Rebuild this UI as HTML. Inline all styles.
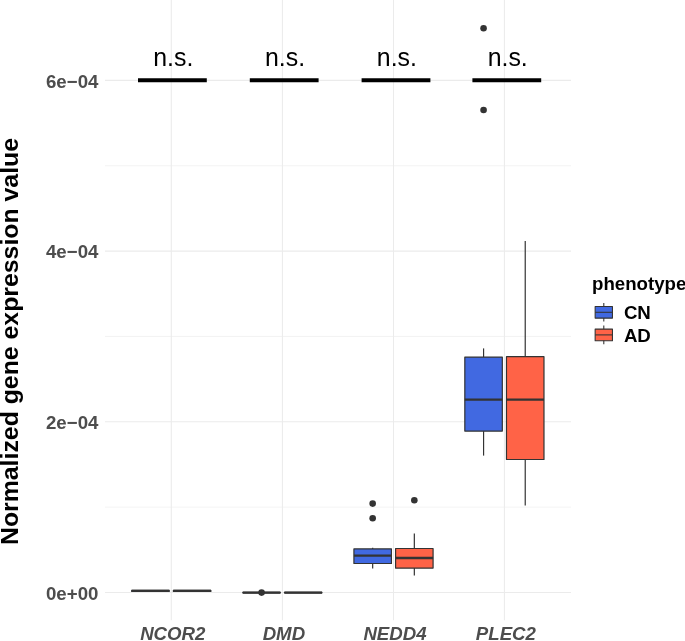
<!DOCTYPE html>
<html><head><meta charset="utf-8"><title>plot</title>
<style>
html,body{margin:0;padding:0;background:#fff;}
body{width:685px;height:641px;overflow:hidden;font-family:"Liberation Sans",sans-serif;}
svg{display:block;will-change:transform;}
.f{font-family:"Liberation Sans",sans-serif;}
</style></head><body>
<svg width="685" height="641" viewBox="0 0 685 641">
<rect width="685" height="641" fill="#fff"/>
<line x1="105.0" x2="571.0" y1="507.15" y2="507.15" stroke="#EBEBEB" stroke-width="0.6"/>
<line x1="105.0" x2="571.0" y1="336.45" y2="336.45" stroke="#EBEBEB" stroke-width="0.6"/>
<line x1="105.0" x2="571.0" y1="165.75" y2="165.75" stroke="#EBEBEB" stroke-width="0.6"/>
<line x1="105.0" x2="571.0" y1="592.50" y2="592.50" stroke="#EBEBEB" stroke-width="1.07"/>
<line x1="105.0" x2="571.0" y1="421.80" y2="421.80" stroke="#EBEBEB" stroke-width="1.07"/>
<line x1="105.0" x2="571.0" y1="251.10" y2="251.10" stroke="#EBEBEB" stroke-width="1.07"/>
<line x1="105.0" x2="571.0" y1="80.40" y2="80.40" stroke="#EBEBEB" stroke-width="1.07"/>
<line x1="171.3" x2="171.3" y1="0" y2="620.3" stroke="#EBEBEB" stroke-width="1.07"/>
<line x1="282.4" x2="282.4" y1="0" y2="620.3" stroke="#EBEBEB" stroke-width="1.07"/>
<line x1="393.5" x2="393.5" y1="0" y2="620.3" stroke="#EBEBEB" stroke-width="1.07"/>
<line x1="504.4" x2="504.4" y1="0" y2="620.3" stroke="#EBEBEB" stroke-width="1.07"/>
<line x1="150.47000000000003" x2="150.47000000000003" y1="590.3" y2="590.3" stroke="#333333" stroke-width="1.2"/>
<line x1="150.47000000000003" x2="150.47000000000003" y1="591.5" y2="591.5" stroke="#333333" stroke-width="1.2"/>
<rect x="131.72" y="590.3" width="37.5" height="1.20" fill="#4169E1" stroke="#333333" stroke-width="1.2" stroke-linejoin="round"/>
<line x1="131.72" x2="169.22" y1="590.9" y2="590.9" stroke="#333333" stroke-width="2.3"/>
<line x1="192.13" x2="192.13" y1="590.3" y2="590.3" stroke="#333333" stroke-width="1.2"/>
<line x1="192.13" x2="192.13" y1="591.5" y2="591.5" stroke="#333333" stroke-width="1.2"/>
<rect x="173.38" y="590.3" width="37.5" height="1.20" fill="#FF6347" stroke="#333333" stroke-width="1.2" stroke-linejoin="round"/>
<line x1="173.38" x2="210.88" y1="590.9" y2="590.9" stroke="#333333" stroke-width="2.3"/>
<line x1="261.57" x2="261.57" y1="592.4" y2="592.4" stroke="#333333" stroke-width="1.2"/>
<line x1="261.57" x2="261.57" y1="592.8" y2="592.8" stroke="#333333" stroke-width="1.2"/>
<rect x="242.82" y="592.4" width="37.5" height="0.40" fill="#4169E1" stroke="#333333" stroke-width="1.2" stroke-linejoin="round"/>
<line x1="242.82" x2="280.32" y1="592.6" y2="592.6" stroke="#333333" stroke-width="2.3"/>
<circle cx="261.57" cy="592.6" r="3.3" fill="#333333"/>
<line x1="303.22999999999996" x2="303.22999999999996" y1="592.4" y2="592.4" stroke="#333333" stroke-width="1.2"/>
<line x1="303.22999999999996" x2="303.22999999999996" y1="592.8" y2="592.8" stroke="#333333" stroke-width="1.2"/>
<rect x="284.48" y="592.4" width="37.5" height="0.40" fill="#FF6347" stroke="#333333" stroke-width="1.2" stroke-linejoin="round"/>
<line x1="284.48" x2="321.98" y1="592.6" y2="592.6" stroke="#333333" stroke-width="2.3"/>
<line x1="372.67" x2="372.67" y1="547.8" y2="548.9" stroke="#333333" stroke-width="1.2"/>
<line x1="372.67" x2="372.67" y1="563.5" y2="568.6" stroke="#333333" stroke-width="1.2"/>
<rect x="353.92" y="548.9" width="37.5" height="14.60" fill="#4169E1" stroke="#333333" stroke-width="1.2" stroke-linejoin="round"/>
<line x1="353.92" x2="391.42" y1="555.6" y2="555.6" stroke="#333333" stroke-width="2.3"/>
<circle cx="372.67" cy="503.6" r="3.3" fill="#333333"/>
<circle cx="372.67" cy="518.2" r="3.3" fill="#333333"/>
<line x1="414.33" x2="414.33" y1="533.6" y2="548.5" stroke="#333333" stroke-width="1.2"/>
<line x1="414.33" x2="414.33" y1="568.1" y2="575.4" stroke="#333333" stroke-width="1.2"/>
<rect x="395.58" y="548.5" width="37.5" height="19.60" fill="#FF6347" stroke="#333333" stroke-width="1.2" stroke-linejoin="round"/>
<line x1="395.58" x2="433.08" y1="558.0" y2="558.0" stroke="#333333" stroke-width="2.3"/>
<circle cx="414.33" cy="500.2" r="3.3" fill="#333333"/>
<line x1="483.57" x2="483.57" y1="348.4" y2="357.1" stroke="#333333" stroke-width="1.2"/>
<line x1="483.57" x2="483.57" y1="431.1" y2="455.6" stroke="#333333" stroke-width="1.2"/>
<rect x="464.82" y="357.1" width="37.5" height="74.00" fill="#4169E1" stroke="#333333" stroke-width="1.2" stroke-linejoin="round"/>
<line x1="464.82" x2="502.32" y1="399.6" y2="399.6" stroke="#333333" stroke-width="2.3"/>
<circle cx="483.57" cy="28.2" r="3.3" fill="#333333"/>
<circle cx="483.57" cy="110.0" r="3.3" fill="#333333"/>
<line x1="525.23" x2="525.23" y1="241.0" y2="356.7" stroke="#333333" stroke-width="1.2"/>
<line x1="525.23" x2="525.23" y1="459.5" y2="505.4" stroke="#333333" stroke-width="1.2"/>
<rect x="506.48" y="356.7" width="37.5" height="102.80" fill="#FF6347" stroke="#333333" stroke-width="1.2" stroke-linejoin="round"/>
<line x1="506.48" x2="543.98" y1="399.6" y2="399.6" stroke="#333333" stroke-width="2.3"/>
<line x1="138.0" x2="206.8" y1="80.3" y2="80.3" stroke="#000" stroke-width="3.9"/>
<text x="173.3" y="66.2" font-size="24.9" text-anchor="middle" fill="#000" class="f">n.s.</text>
<line x1="249.8" x2="318.6" y1="80.3" y2="80.3" stroke="#000" stroke-width="3.9"/>
<text x="285.1" y="66.2" font-size="24.9" text-anchor="middle" fill="#000" class="f">n.s.</text>
<line x1="361.6" x2="430.4" y1="80.3" y2="80.3" stroke="#000" stroke-width="3.9"/>
<text x="396.9" y="66.2" font-size="24.9" text-anchor="middle" fill="#000" class="f">n.s.</text>
<line x1="472.4" x2="541.2" y1="80.3" y2="80.3" stroke="#000" stroke-width="3.9"/>
<text x="507.7" y="66.2" font-size="24.9" text-anchor="middle" fill="#000" class="f">n.s.</text>
<text x="98.4" y="599.80" font-size="18.67" font-weight="bold" text-anchor="end" fill="#4D4D4D" class="f">0e+00</text>
<text x="98.4" y="429.10" font-size="18.67" font-weight="bold" text-anchor="end" fill="#4D4D4D" class="f">2e−04</text>
<text x="98.4" y="258.40" font-size="18.67" font-weight="bold" text-anchor="end" fill="#4D4D4D" class="f">4e−04</text>
<text x="98.4" y="87.70" font-size="18.67" font-weight="bold" text-anchor="end" fill="#4D4D4D" class="f">6e−04</text>
<text x="172.8" y="640.2" font-size="18.67" font-weight="bold" font-style="italic" text-anchor="middle" fill="#4D4D4D" class="f">NCOR2</text>
<text x="283.9" y="640.2" font-size="18.67" font-weight="bold" font-style="italic" text-anchor="middle" fill="#4D4D4D" class="f">DMD</text>
<text x="395.0" y="640.2" font-size="18.67" font-weight="bold" font-style="italic" text-anchor="middle" fill="#4D4D4D" class="f">NEDD4</text>
<text x="505.9" y="640.2" font-size="18.67" font-weight="bold" font-style="italic" text-anchor="middle" fill="#4D4D4D" class="f">PLEC2</text>
<text transform="translate(17.9,341.5) rotate(-90)" font-size="24.84" font-weight="bold" text-anchor="middle" fill="#000" class="f">Normalized gene expression value</text>
<text x="592.0" y="289.8" font-size="18.67" font-weight="bold" fill="#000" class="f">phenotype</text>
<line x1="603.8" x2="603.8" y1="303.0" y2="321.6" stroke="#333333" stroke-width="1.07"/>
<rect x="595.15" y="306.50" width="17.3" height="11.6" fill="#4169E1" stroke="#333333" stroke-width="1.07" stroke-linejoin="round"/>
<line x1="595.15" x2="612.45" y1="312.3" y2="312.3" stroke="#333333" stroke-width="1.07"/>
<text x="623.9" y="318.8" font-size="18.67" font-weight="bold" fill="#000" class="f">CN</text>
<line x1="603.8" x2="603.8" y1="325.6" y2="344.2" stroke="#333333" stroke-width="1.07"/>
<rect x="595.15" y="329.10" width="17.3" height="11.6" fill="#FF6347" stroke="#333333" stroke-width="1.07" stroke-linejoin="round"/>
<line x1="595.15" x2="612.45" y1="334.9" y2="334.9" stroke="#333333" stroke-width="1.07"/>
<text x="623.9" y="341.5" font-size="18.67" font-weight="bold" fill="#000" class="f">AD</text>
</svg>
</body></html>
